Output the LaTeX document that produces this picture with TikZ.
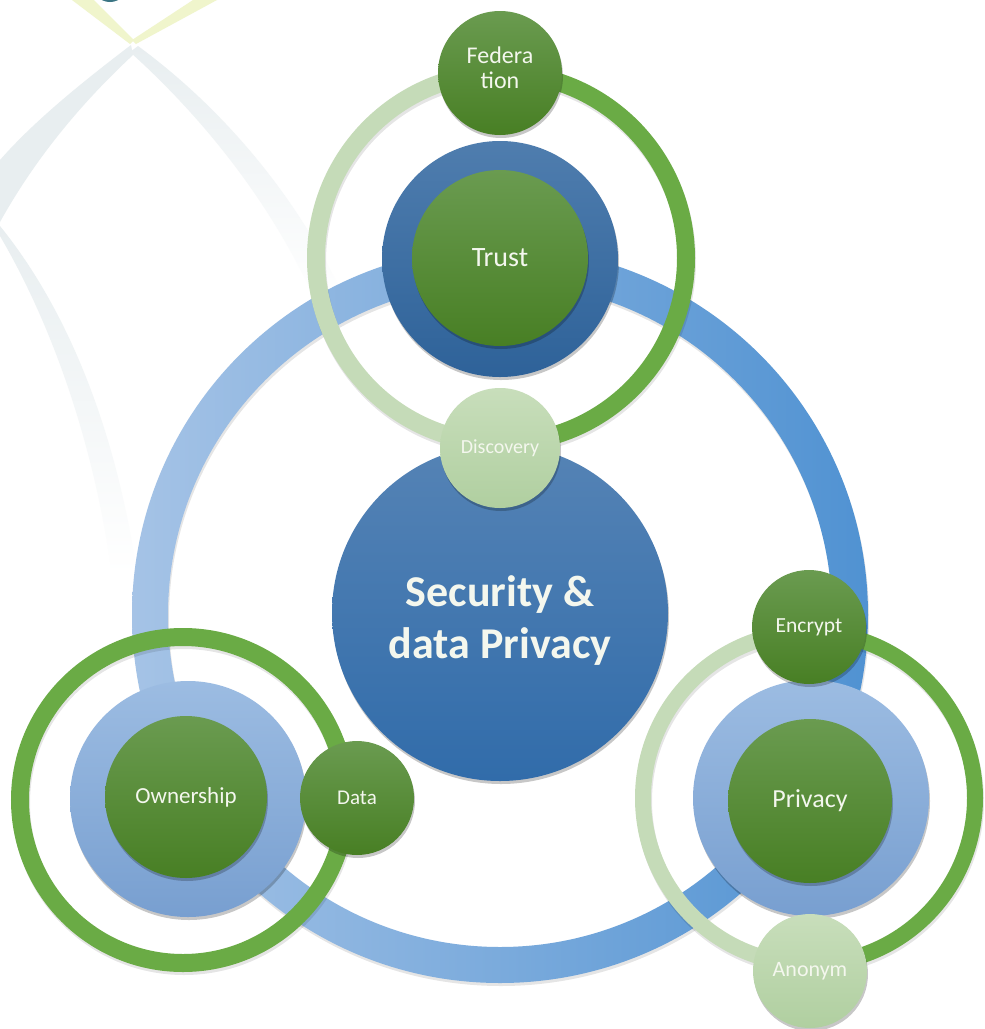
\documentclass[tikz,border=0pt]{standalone}
\usepackage{fontspec}
\setmainfont{Carlito}
\usetikzlibrary{shadows}
\definecolor{ringL}{HTML}{A5C3E6}
\definecolor{ringR}{HTML}{5092D2}
\definecolor{secT}{HTML}{5583B5}
\definecolor{secB}{HTML}{316CAA}
\definecolor{trT}{HTML}{4F7DAE}
\definecolor{trB}{HTML}{2E6299}
\definecolor{gT}{HTML}{6A9B50}
\definecolor{gB}{HTML}{487F24}
\definecolor{lbT}{HTML}{9CBCE2}
\definecolor{lbB}{HTML}{789FD0}
\definecolor{pgT}{HTML}{C8DEBB}
\definecolor{pgB}{HTML}{B0CFA0}
\definecolor{ringG}{HTML}{6AAB45}
\definecolor{ringP}{HTML}{C5DBB8}
\definecolor{txt}{HTML}{F4F7EE}
\definecolor{deco}{HTML}{E8EEF0}
\definecolor{yel}{HTML}{F0F5CC}
\definecolor{decoT}{HTML}{3B7584}
\begin{document}
\begin{tikzpicture}[x=1pt,y=-1pt,
  disc/.style={circle, inner sep=0pt, text=txt, align=center,
    drop shadow={shadow xshift=1pt, shadow yshift=-3pt, opacity=.22, fill=black}},
  greendisc/.style={disc, top color=gT, bottom color=gB},
  paledisc/.style={disc, top color=pgT, bottom color=pgB},
  lightbluedisc/.style={disc, top color=lbT, bottom color=lbB},
  darkbluedisc/.style={disc, top color=trT, bottom color=trB},
  secdisc/.style={disc, top color=secT, bottom color=secB},
  ringshadow/.style={black, opacity=.10},
]
\clip (0,0) rectangle (985,1029);
\fill[white] (0,0) rectangle (985,1029);

% background decoration
\fill[decoT] (110,-16) circle (18pt);
\fill[yel] (72,0) -- (94,0) -- (134,40) -- (130,44) -- cycle;
\fill[yel] (193,0) -- (217,0) -- (136,44) -- (132,40) -- cycle;
\fill[deco] (131,45) .. controls (85,80) and (35,120) .. (0,160) -- (0,222)
   .. controls (40,150) and (90,95) .. (133,55) -- cycle;
\shade[top color=deco, bottom color=white] (130,52) .. controls (200,115) and (270,200) .. (315,300)
   -- (345,300) .. controls (300,200) and (225,110) .. (138,46) -- cycle;
\shade[top color=deco, bottom color=white] (0,236) .. controls (55,330) and (95,450) .. (112,575)
   -- (137,575) .. controls (118,440) and (72,315) .. (0,226) -- cycle;

% big blue ring
\fill[ringshadow, even odd rule] (501,618) circle (368pt) (501,618) circle (332pt);
\shade[left color=ringL, right color=ringR, even odd rule] (500,615) circle (368pt) (500,615) circle (332pt);

% centre
\node[secdisc, minimum size=336pt, font=\bfseries\fontsize{44}{52}\selectfont] (sec) at (500,613) {};
\node[text=txt, align=center, font=\bfseries\fontsize{44}{52}\selectfont] (sectext) at (500,621) {Security \&\\data Privacy};

% Trust group
\node[darkbluedisc, minimum size=236pt] (trustbg) at (500,259) {};
\node[greendisc, minimum size=176pt, font=\fontsize{28}{32}\selectfont] (trust) at (500,258) {Trust};
\draw[ringshadow, line width=18pt] (502,261) circle (185pt);
\draw[ringP, line width=18pt] (501,258) ++(90:185pt) arc[start angle=90, end angle=270, radius=185pt];
\draw[ringG, line width=18pt] (501,258) ++(-90:185pt) arc[start angle=-90, end angle=90, radius=185pt];
\node[greendisc, minimum size=124pt] (fed) at (500,73) {};
\node[text=txt, align=center, font=\fontsize{24}{25}\selectfont] (fedtext) at (500,68) {Federa\\tion};
\node[paledisc, minimum size=120pt, font=\fontsize{20}{24}\selectfont] (disc) at (500,448) {Discovery};

% Ownership group
\node[lightbluedisc, minimum size=236pt] (ownbg) at (188,799) {};
\node[greendisc, minimum size=162pt, font=\fontsize{23}{26}\selectfont] (own) at (186,797) {Ownership};
\draw[ringshadow, line width=18pt] (184,803) circle (163pt);
\draw[ringG, line width=18pt] (183,800) circle (163pt);
\node[greendisc, minimum size=114pt, font=\fontsize{21}{24}\selectfont] (data) at (357,798) {Data};

% Privacy group
\node[lightbluedisc, minimum size=236pt] (privbg) at (811,798) {};
\node[greendisc, minimum size=164pt, font=\fontsize{26}{30}\selectfont] (priv) at (810,801) {Privacy};
\draw[ringshadow, line width=16pt] (810,801) circle (166pt);
\draw[ringP, line width=16pt] (809,798) ++(90:166pt) arc[start angle=90, end angle=270, radius=166pt];
\draw[ringG, line width=16pt] (809,798) ++(-90:166pt) arc[start angle=-90, end angle=90, radius=166pt];
\node[greendisc, minimum size=114pt, font=\fontsize{21.5}{24}\selectfont] (enc) at (809,627) {Encrypt};
\node[paledisc, minimum size=114pt, font=\fontsize{22}{24}\selectfont] (anon) at (810,971) {Anonym};
\end{tikzpicture}
\end{document}
